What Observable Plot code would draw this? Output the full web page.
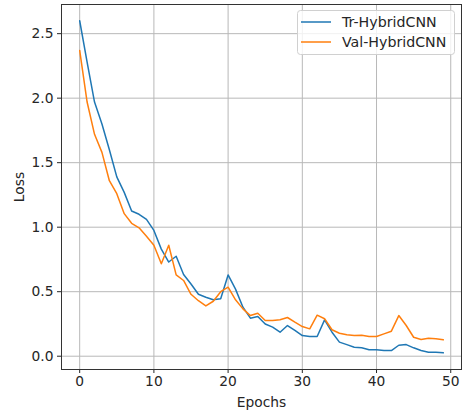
<!DOCTYPE html>
<html><head><meta charset="utf-8">
<script src="https://cdn.jsdelivr.net/npm/d3@7"></script>
<script src="https://cdn.jsdelivr.net/npm/@observablehq/plot@0.6"></script>
<style>body{margin:0;background:#fff;}</style>
</head><body><div id="chart"></div>
<script>
const epochs = [0,1,2,3,4,5,6,7,8,9,10,11,12,13,14,15,16,17,18,19,20,21,22,23,24,25,26,27,28,29,30,31,32,33,34,35,36,37,38,39,40,41,42,43,44,45,46,47,48,49];
const trLoss = [2.60,2.28,1.97,1.80,1.60,1.39,1.27,1.125,1.10,1.06,0.975,0.83,0.73,0.775,0.633,0.56,0.48,0.457,0.437,0.445,0.63,0.52,0.38,0.295,0.308,0.25,0.225,0.186,0.238,0.20,0.16,0.153,0.153,0.282,0.186,0.109,0.09,0.07,0.065,0.05,0.05,0.044,0.044,0.085,0.09,0.065,0.044,0.031,0.031,0.026];
const valLoss = [2.37,1.97,1.72,1.58,1.36,1.26,1.105,1.03,0.995,0.93,0.86,0.716,0.86,0.63,0.587,0.48,0.43,0.39,0.426,0.50,0.535,0.437,0.367,0.315,0.333,0.277,0.277,0.282,0.30,0.264,0.23,0.212,0.318,0.29,0.205,0.178,0.166,0.16,0.163,0.153,0.153,0.173,0.194,0.315,0.238,0.147,0.13,0.14,0.135,0.127];
const seriesNames = ["Tr-HybridCNN","Val-HybridCNN"];
const seriesColors = ["#1f77b4","#ff7f0e"];
const xTicks = [0,10,20,30,40,50];
const yTicks = [0,0.5,1,1.5,2,2.5];

const rows = [];
epochs.forEach((e,i)=>{
  rows.push({epoch:e, loss:trLoss[i], series:seriesNames[0]});
  rows.push({epoch:e, loss:valLoss[i], series:seriesNames[1]});
});

const chart = Plot.plot({
  width:462, height:415, marginLeft:61, marginRight:1, marginTop:4, marginBottom:46,
  style:{fontFamily:"DejaVu Sans", fontSize:"13.8px", color:"#262626", background:"#fff"},
  x:{domain:[-2.45,51.45], ticks:xTicks, tickFormat:d=>String(d), label:"Epochs", labelAnchor:"center", labelArrow:"none", labelOffset:37, tickSize:4, tickPadding:3},
  y:{domain:[-0.103,2.726], ticks:yTicks, tickFormat:d=>d.toFixed(1), label:"Loss", labelAnchor:"center", labelArrow:"none", labelOffset:47, tickSize:4, tickPadding:4},
  color:{domain:seriesNames, range:seriesColors},
  marks:[
    Plot.gridX(xTicks, {stroke:"#b8b8b8", strokeOpacity:1, strokeWidth:1}),
    Plot.gridY(yTicks, {stroke:"#b8b8b8", strokeOpacity:1, strokeWidth:1}),
    Plot.line(rows, {x:"epoch", y:"loss", stroke:"series", z:"series", strokeWidth:1.5}),
    Plot.frame({stroke:"#333", strokeWidth:1})
  ]
});
document.getElementById("chart").appendChild(chart);

const svg = d3.select(chart);
const lg = svg.append("g").attr("font-family","DejaVu Sans").attr("font-size","14.2px").attr("text-anchor","start");
lg.append("rect").attr("x",297.5).attr("y",10.5).attr("width",157).attr("height",44).attr("rx",3)
  .attr("fill","#fff").attr("fill-opacity",0.8).attr("stroke","#d0d0d0");
seriesNames.forEach((n,i)=>{
  const yy = 22 + i*20;
  lg.append("line").attr("x1",301).attr("x2",331).attr("y1",yy).attr("y2",yy)
    .attr("stroke",seriesColors[i]).attr("stroke-width",1.5);
  lg.append("text").attr("x",342).attr("y",yy).attr("dy","0.35em").attr("text-anchor","start").attr("fill","#262626").text(n);
});
</script>
</body></html>
